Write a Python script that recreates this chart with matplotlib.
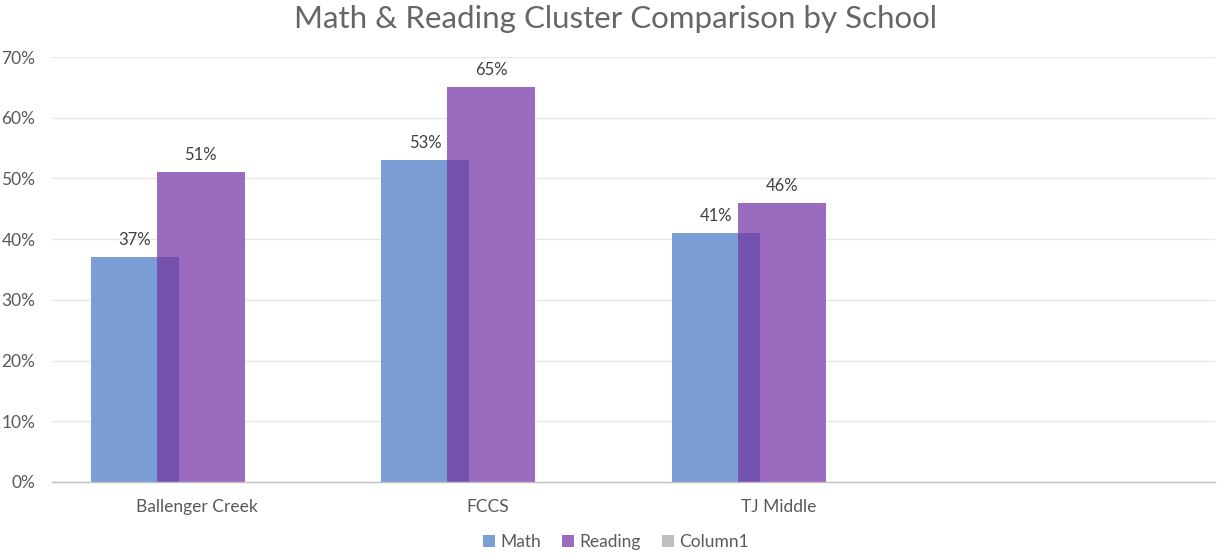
import matplotlib
matplotlib.use("Agg")
import matplotlib.pyplot as plt
import numpy as np
from matplotlib.patches import Patch

plt.rcParams['font.family'] = ['Lato', 'DejaVu Sans']

categories = ["Ballenger Creek", "FCCS", "TJ Middle", ""]
math_vals = [0.37, 0.53, 0.41, None]
reading_vals = [0.51, 0.65, 0.46, None]
column1_vals = [None, None, None, None]
series_names = ["Math", "Reading", "Column1"]
colors = ["#7a9dd6", "#9b6bbf", "#bfbfbf"]
overlap_color = "#7452b0"
yticks = [0, 0.1, 0.2, 0.3, 0.4, 0.5, 0.6, 0.7]

fig = plt.figure(figsize=(12.25, 5.6), dpi=100)
ax = fig.add_axes([52/1225, 1-482/560, (1215-52)/1225, (482-57)/560])

x = np.arange(len(categories))
width = 0.303
step = 0.227
shift = 0.011

# Reading bars
for xi, v in zip(x, reading_vals):
    if v is None:
        continue
    ax.bar(xi + shift, v, width=width, color=colors[1], zorder=3)
    ax.text(xi + shift, v + 0.015, f"{round(v*100):d}%", ha='center', va='bottom',
            fontsize=12, color='#404040', zorder=6)

# Math bars (overlapping, darker where they overlap Reading)
for xi, v in zip(x, math_vals):
    if v is None:
        continue
    ax.bar(xi - step + shift, v, width=width, color=colors[0], zorder=2)
    ax.bar(xi + shift - width/2 + (width - step)/2, min(v, reading_vals[xi]),
           width=(width - step), color=overlap_color, zorder=5)
    ax.text(xi - step + shift, v + 0.015, f"{round(v*100):d}%", ha='center', va='bottom',
            fontsize=12, color='#404040', zorder=6)

ax.set_xlim(-0.5, 3.5)
ax.set_ylim(0, 0.7)
ax.set_yticks(yticks)
ax.set_yticklabels([f"{int(round(t*100))}%" for t in yticks])
ax.set_xticks(x)
ax.set_xticklabels(categories)
ax.tick_params(axis='both', length=0, labelsize=12.5, colors='#595959')
ax.tick_params(axis='x', pad=12)
ax.tick_params(axis='y', pad=12)
ax.grid(axis='y', color='#e6e6e6', linewidth=0.9, zorder=0)
ax.set_axisbelow(True)
for s in ['top', 'right', 'left']:
    ax.spines[s].set_visible(False)
ax.spines['bottom'].set_color('#bfbfbf')
ax.spines['bottom'].set_linewidth(1.0)
ax.spines['bottom'].set_zorder(6)

fig.text(616/1225, 1-19/560, "Math & Reading Cluster Comparison by School",
         ha='center', va='center', fontsize=22.5, color='#666666')

handles = [Patch(facecolor=c, edgecolor='none') for c in colors]
fig.legend(handles, series_names, loc='center', bbox_to_anchor=(616/1225, 1-542/560),
           ncol=3, frameon=False, fontsize=12.5, handlelength=0.7, handleheight=0.7,
           handletextpad=0.3, columnspacing=1.2, labelcolor='#595959')

fig.savefig("out.png", dpi=100)
